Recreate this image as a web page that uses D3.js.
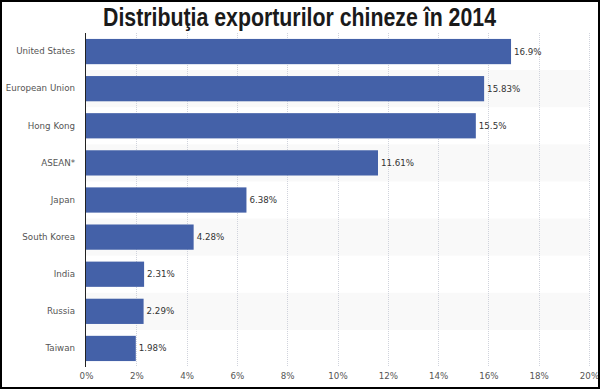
<!DOCTYPE html>
<html>
<head>
<meta charset="utf-8">
<script src="https://cdn.jsdelivr.net/npm/d3@7"></script>
<style>
  body { margin: 0; background: #fff; }
  .axis text { font-family: "DejaVu Sans", Verdana, sans-serif; font-size: 8.7px; fill: #555; }
  .value { font-family: "DejaVu Sans", Verdana, sans-serif; font-size: 8.7px; fill: #333; }
</style>
</head>
<body>
<div id="chart"></div>
<script>
const countries = ['United States', 'European Union', 'Hong Kong', 'ASEAN*', 'Japan', 'South Korea', 'India', 'Russia', 'Taiwan']
const shares = [16.9, 15.83, 15.5, 11.61, 6.38, 4.28, 2.31, 2.29, 1.98]
const valueLabels = ['16.9%', '15.83%', '15.5%', '11.61%', '6.38%', '4.28%', '2.31%', '2.29%', '1.98%']
const xTicks = [0, 2, 4, 6, 8, 10, 12, 14, 16, 18, 20]

const width = 600
const height = 389
const margin = { top: 33, right: 11, bottom: 22, left: 86 }

const data = countries.map((c, i) => ({ country: c, share: shares[i], label: valueLabels[i] }))

const svg = d3.select('#chart')
  .append('svg')
  .attr('width', width)
  .attr('height', height)

const x = d3.scaleLinear()
  .domain([0, 20])
  .range([margin.left, width - margin.right])

const y = d3.scaleBand()
  .domain(countries)
  .range([margin.top, height - margin.bottom])
  .paddingInner(0.32)
  .paddingOuter(0.16)

const step = y.step()

// alternating row shading
svg.append('g')
  .selectAll('rect')
  .data(data.filter((d, i) => i % 2 === 1))
  .join('rect')
  .attr('x', margin.left)
  .attr('width', width - margin.right - margin.left)
  .attr('y', d => y(d.country) - y.paddingInner() * step / 2)
  .attr('height', step)
  .attr('fill', '#f9f9f9')

// dotted gridlines
svg.append('g')
  .selectAll('line')
  .data(xTicks.slice(1))
  .join('line')
  .attr('x1', d => Math.round(x(d)) + 0.5)
  .attr('x2', d => Math.round(x(d)) + 0.5)
  .attr('y1', margin.top)
  .attr('y2', height - margin.bottom)
  .attr('stroke', '#d0d3dc')
  .attr('stroke-dasharray', '1,1')

// bars
svg.append('g')
  .selectAll('rect')
  .data(data)
  .join('rect')
  .attr('x', x(0))
  .attr('y', d => y(d.country))
  .attr('width', d => x(d.share) - x(0))
  .attr('height', y.bandwidth())
  .attr('fill', '#4461a8')

svg.append('g')
  .selectAll('text')
  .data(data)
  .join('text')
  .attr('class', 'value')
  .attr('x', d => x(d.share) + 3)
  .attr('y', d => y(d.country) + y.bandwidth() / 2)
  .attr('dy', '0.35em')
  .text(d => d.label)

// y axis
svg.append('g')
  .attr('class', 'axis')
  .attr('transform', `translate(${margin.left},0)`)
  .call(d3.axisLeft(y).tickSize(0).tickPadding(11))
  .call(g => g.select('.domain').remove())

svg.append('line')
  .attr('x1', margin.left - 0.5)
  .attr('x2', margin.left - 0.5)
  .attr('y1', margin.top)
  .attr('y2', height - margin.bottom)
  .attr('stroke', '#222')

// x axis labels
svg.append('g')
  .attr('class', 'axis')
  .attr('transform', `translate(0,${height - margin.bottom})`)
  .call(d3.axisBottom(x).tickValues(xTicks).tickSize(0).tickPadding(6).tickFormat(d => d + '%'))
  .call(g => g.select('.domain').remove())

// title
svg.append('text')
  .attr('x', 299.5)
  .attr('y', 26)
  .attr('text-anchor', 'middle')
  .attr('font-family', '"Liberation Sans Narrow", "Arial Narrow", "Liberation Sans", sans-serif')
  .attr('font-weight', 'bold')
  .attr('font-size', 25)
  .attr('fill', '#1a1a1a')
  .attr('textLength', 393)
  .attr('lengthAdjust', 'spacingAndGlyphs')
  .text('Distribuţia exporturilor chineze în 2014')

// outer frame
svg.append('rect')
  .attr('x', 1)
  .attr('y', 1)
  .attr('width', width - 2)
  .attr('height', height - 2)
  .attr('fill', 'none')
  .attr('stroke', '#000')
  .attr('stroke-width', 2)
</script>
</body>
</html>
